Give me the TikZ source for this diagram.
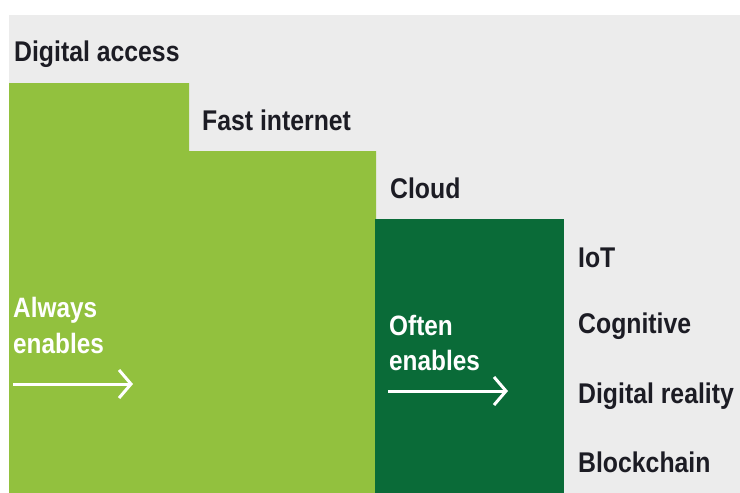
\documentclass[tikz,border=0pt]{standalone}
\usepackage{fontspec}
\setmainfont{Liberation Sans}[FakeStretch=0.87]
\usetikzlibrary{arrows.meta}
\definecolor{bggray}{HTML}{ECECEC}
\definecolor{lgreen}{HTML}{92C13E}
\definecolor{dgreen}{HTML}{0A6B38}
\definecolor{txt}{HTML}{1C1C24}
\tikzset{
  lbl/.style={anchor=base west, inner sep=0pt, text=txt, font=\bfseries\fontsize{28.5}{30}\selectfont},
  wlbl/.style={anchor=base west, inner sep=0pt, text=white, font=\bfseries\fontsize{28}{30}\selectfont},
  warrow/.style={draw=white, line width=3pt, -{Straight Barb[length=12pt,width=28pt,line width=3pt]}}
}
\begin{document}
\begin{tikzpicture}[x=1pt,y=-1pt]
\useasboundingbox (0,0) rectangle (740,493);
\fill[white] (0,0) rectangle (740,493);
\fill[bggray] (9,15) rectangle (740,493);
\fill[lgreen] (9,83) -- (189,83) -- (189,151) -- (376,151) -- (376,493) -- (9,493) -- cycle;
\fill[dgreen] (375,219) rectangle (564,493);

\node[lbl] (da) at (14,61) {Digital access};
\node[lbl] (fi) at (202,130) {Fast internet};
\node[lbl] (cl) at (390,198) {Cloud};
\node[lbl] (iot) at (578,267) {IoT};
\node[lbl] (cog) at (578,333) {Cognitive};
\node[lbl] (dr) at (578,403) {Digital reality};
\node[lbl] (bc) at (578,472) {Blockchain};

\node[wlbl] (a1t) at (13,317) {Always};
\node[wlbl] (a2t) at (13,353) {enables};
\node[wlbl] (o1t) at (389,335) {Often};
\node[wlbl] (o2t) at (389,370) {enables};

\coordinate (a1) at (13,384);
\coordinate (a2) at (133,384);
\coordinate (o1) at (388,391);
\coordinate (o2) at (508,391);
\draw[warrow] (a1) -- (a2);
\draw[warrow] (o1) -- (o2);
\end{tikzpicture}
\end{document}
